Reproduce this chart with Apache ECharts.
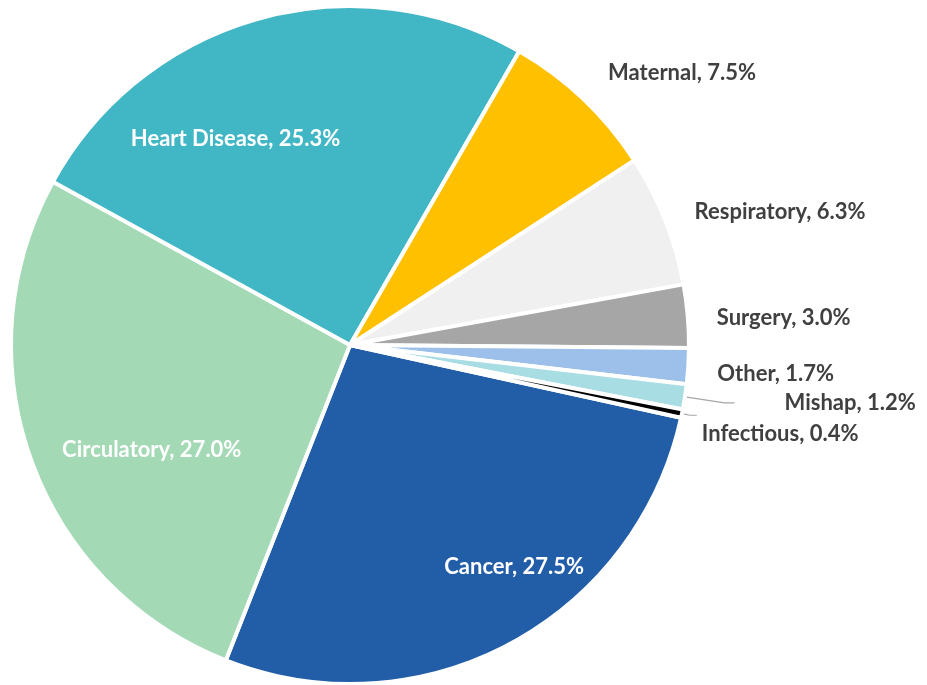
<!DOCTYPE html>
<html>
<head>
<meta charset="utf-8">
<script src="https://cdn.jsdelivr.net/npm/echarts@6/dist/echarts.min.js"></script>
<style>
  html, body { margin: 0; padding: 0; background: #fff; }
  #chart { width: 927px; height: 685px; }
</style>
</head>
<body>
<div id="chart"></div>
<script>
// slices, clockwise from the Cancer wedge
const causes = ['Cancer', 'Circulatory', 'Heart Disease', 'Maternal', 'Respiratory', 'Surgery', 'Other', 'Mishap', 'Infectious']
const shares = [27.5, 27.0, 25.3, 7.5, 6.3, 3.0, 1.7, 1.2, 0.4]
const colors = ['#225EA8', '#A3D9B5', '#41B6C4', '#FFC000', '#F0F0F0', '#A6A6A6', '#9CC0EA', '#A8DDE4', '#000000']

// which labels sit inside the wedge
const insideLabel = [true, true, true, false, false, false, false, false, false]
// leader line [length, length2, gap to text, show line]
const leader = [null, null, null,
  [36, 0, 0, false], [21, 5, 5, false], [0, 24, 5, false], [10, 14, 5, false],
  [40, 10, 50, true], [8, 7, 5, true]]
// nudge of labels from where the pie puts them
const labelShift = [[83, 70], [-36, 46], [-68, -40], null, null, [0, 2], [0, 7], null, [0, 19]]

const textFont = 'Lato'

const seriesData = causes.map((name, i) => {
  const item = {
    name: name,
    value: shares[i],
    itemStyle: { color: colors[i] }
  }
  if (insideLabel[i]) {
    item.label = { position: 'inside', color: '#ffffff' }
    item.labelLine = { show: false }
  } else {
    const l = leader[i]
    item.label = { position: 'outside', color: '#404040', distanceToLabelLine: l[2] }
    item.labelLine = { show: l[3], length: l[0], length2: l[1] }
  }
  return item
})

const chart = echarts.init(document.getElementById('chart'), null, { renderer: 'canvas' })

chart.setOption({
  animation: false,
  backgroundColor: '#ffffff',
  series: [{
    type: 'pie',
    center: [350, 345],
    radius: [0, 339],
    startAngle: -12.4,
    clockwise: true,
    avoidLabelOverlap: false,
    itemStyle: { borderColor: '#ffffff', borderWidth: 4 },
    label: {
      show: true,
      fontFamily: textFont,
      fontWeight: 'bold',
      fontSize: 22,
      formatter: p => p.name + ', ' + p.value.toFixed(1) + '%'
    },
    labelLine: {
      lineStyle: { color: '#A6A6A6', width: 1.2 }
    },
    labelLayout: p => {
      const s = labelShift[p.dataIndex]
      return s ? { dx: s[0], dy: s[1] } : {}
    },
    emphasis: { disabled: true },
    data: seriesData
  }]
})
</script>
</body>
</html>
